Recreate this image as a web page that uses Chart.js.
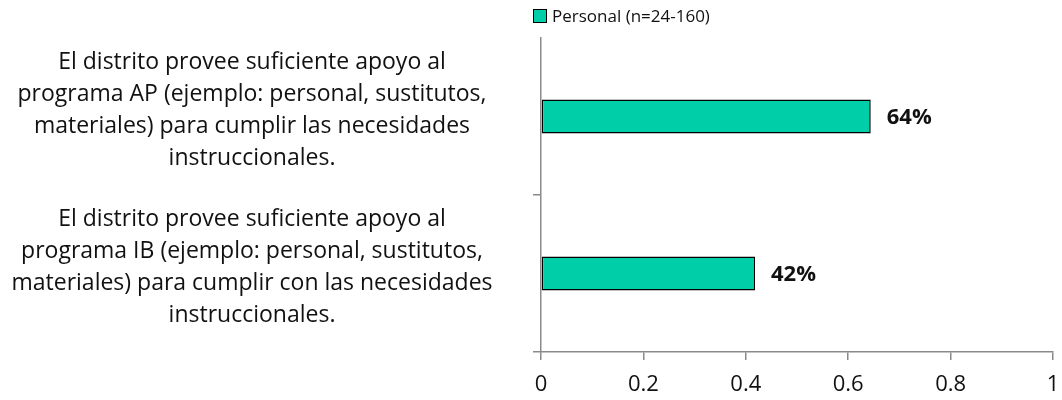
<!DOCTYPE html>
<html>
<head>
<meta charset="utf-8">
<script src="https://cdn.jsdelivr.net/npm/chart.js@4"></script>
<style>
  body { margin: 0; background: #fff; }
  #wrap { position: relative; width: 1062px; height: 400px; }
  #legend { position: absolute; left: 533px; top: 4px; font: 17px "Open Sans", sans-serif; color: #111; display: flex; align-items: center; }
  #legend .box { width: 12px; height: 12px; border: 1px solid #000; background: #00cea8; margin-right: 5px; }
</style>
</head>
<body>
<div id="wrap">
  <canvas id="chart" width="1062" height="400"></canvas>
  <div id="legend"><span class="box"></span><span>Personal (n=24-160)</span></div>
</div>
<script>
const categories = [
  ["El distrito provee suficiente apoyo al", "programa AP (ejemplo: personal, sustitutos,", "materiales) para cumplir las necesidades", "instruccionales."],
  ["El distrito provee suficiente apoyo al", "programa IB (ejemplo: personal, sustitutos,", "materiales) para cumplir con las necesidades", "instruccionales."],
];
const personal = [0.644, 0.418];
const xTicks = [0, 0.2, 0.4, 0.6, 0.8, 1];

const labelFont = { family: "Open Sans", size: 23, lineHeight: "32px" };
const green = "#00cea8";
const axisGrey = "#8a8a8a";

// measure widest category line so the labels sit centred where the original has them
const mctx = document.createElement("canvas").getContext("2d");
mctx.font = labelFont.size + 'px "' + labelFont.family + '"';
let widest = 0;
categories.forEach(lines => lines.forEach(l => { widest = Math.max(widest, mctx.measureText(l).width); }));
const yPad = 281 - widest / 2;

const valueLabels = {
  id: "valueLabels",
  afterDatasetsDraw(chart) {
    const ctx = chart.ctx;
    const meta = chart.getDatasetMeta(0);
    ctx.save();
    ctx.font = 'bold 22px "Open Sans"';
    ctx.fillStyle = "#111";
    ctx.textAlign = "left";
    ctx.textBaseline = "middle";
    meta.data.forEach((bar, i) => {
      const v = chart.data.datasets[0].data[i];
      ctx.fillText(Math.round(v * 100) + "%", bar.x + 16, bar.y + 1);
    });
    ctx.restore();
  }
};

new Chart(document.getElementById("chart"), {
  type: "bar",
  data: {
    labels: categories,
    datasets: [{
      label: "Personal (n=24-160)",
      data: personal,
      backgroundColor: green,
      borderColor: "#000",
      borderWidth: 1.5,
      borderSkipped: false,
      categoryPercentage: 1,
      barPercentage: 0.217,
    }],
  },
  options: {
    indexAxis: "y",
    responsive: false,
    animation: false,
    layout: { padding: { left: 0, right: 9, top: 38, bottom: 0 } },
    plugins: {
      legend: { display: false },
      tooltip: { enabled: false },
    },
    scales: {
      x: {
        min: 0,
        max: 1,
        afterBuildTicks: s => { s.ticks = xTicks.map(v => ({ value: v })); },
        afterFit: s => { s.height = 48; s.paddingLeft = 0; s.paddingRight = 0; },
        ticks: {
          font: { family: "Open Sans", size: 22 },
          color: "#111",
          padding: 12,
          maxRotation: 0,
          callback: v => String(v),
        },
        grid: { drawOnChartArea: false, tickLength: 8, color: axisGrey, lineWidth: 1.5 },
        border: { display: true, color: axisGrey, width: 1.5 },
      },
      y: {
        afterFit: s => { s.width = 541; s.paddingTop = 0; s.paddingBottom = 0; },
        ticks: {
          font: labelFont,
          color: "#111",
          crossAlign: "center",
          padding: yPad,
          labelOffset: -6,
        },
        grid: {
          offset: true,
          drawOnChartArea: false,
          tickLength: 8,
          lineWidth: 1.5,
          color: c => (c.index === 0 ? "rgba(0,0,0,0)" : axisGrey),
        },
        border: { display: true, color: axisGrey, width: 1.5 },
      },
    },
  },
  plugins: [valueLabels],
});
</script>
</body>
</html>
